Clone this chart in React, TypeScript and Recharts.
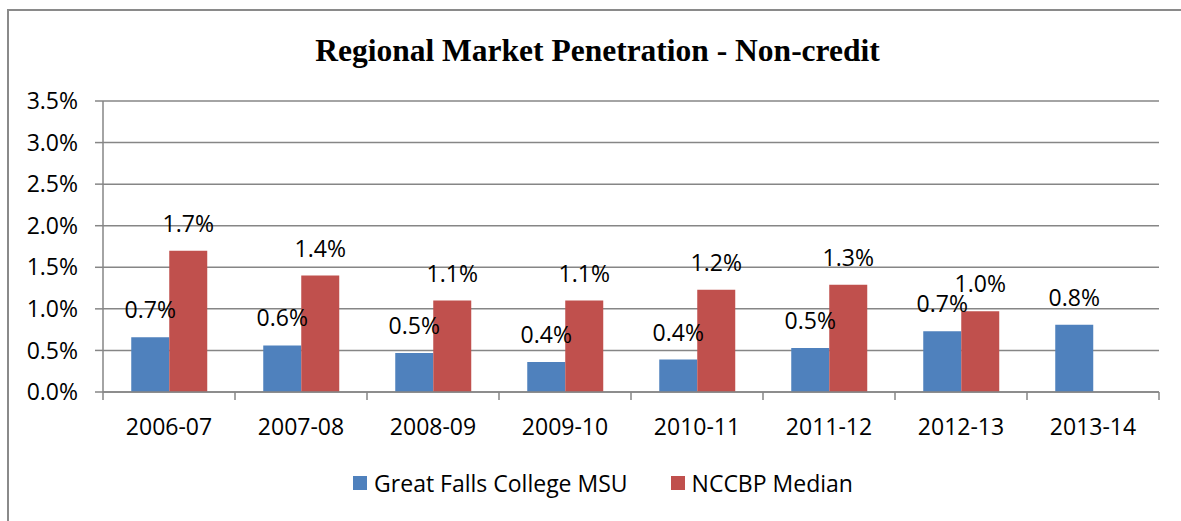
import React from 'react';
import { BarChart, Bar, XAxis, YAxis, CartesianGrid, Legend, LabelList } from 'recharts';

const categories = ['2006-07', '2007-08', '2008-09', '2009-10', '2010-11', '2011-12', '2012-13', '2013-14'];
const gfcValues = [0.66, 0.56, 0.47, 0.36, 0.39, 0.53, 0.73, 0.81];
const nccbpValues: (number | null)[] = [1.7, 1.4, 1.1, 1.1, 1.23, 1.29, 0.97, null];
const yTicks = [0, 0.5, 1, 1.5, 2, 2.5, 3, 3.5];
const seriesNames = ['Great Falls College MSU', 'NCCBP Median'];
const seriesColors = ['#4F81BD', '#C0504D'];

const data = categories.map((name, i) => ({ name, gfc: gfcValues[i], nccbp: nccbpValues[i] }));

const CHART_W = 1181;
const CHART_H = 521;
const AXIS_GRAY = '#868686';
const FONT = '"Open Sans", sans-serif';

const pct = (v: any) => (v === null || v === undefined ? '' : `${Number(v).toFixed(1)}%`);

// category labels + tick marks on the band boundaries (Excel style)
const CategoryTick = (props: any) => {
  const { x, y, payload, index } = props;
  const half = payload && payload.offset ? payload.offset : 66;
  const isLast = index === categories.length - 1;
  return (
    <g>
      <line x1={x - half} y1={y} x2={x - half} y2={y + 8} stroke={AXIS_GRAY} strokeWidth={1.5} />
      {isLast && <line x1={x + half} y1={y} x2={x + half} y2={y + 8} stroke={AXIS_GRAY} strokeWidth={1.5} />}
      <text x={x} y={y + 43} textAnchor="middle" fill="#000" fontSize={23} fontFamily={FONT}>
        {payload.value}
      </text>
    </g>
  );
};

const LegendContent = () => (
  <div
    style={{
      display: 'flex',
      justifyContent: 'center',
      alignItems: 'center',
      height: 34,
      paddingLeft: 25,
      fontFamily: FONT,
      fontSize: 23,
      color: '#000',
    }}
  >
    {seriesNames.map((name, i) => (
      <span key={name} style={{ display: 'flex', alignItems: 'center', marginRight: i === 0 ? 43 : 0 }}>
        <span style={{ width: 14, height: 14, background: seriesColors[i], marginRight: 7, display: 'inline-block' }} />
        {name}
      </span>
    ))}
  </div>
);

export default function App() {
  return (
    <div style={{ position: 'absolute', left: 0, top: 0, width: CHART_W, height: CHART_H, overflow: 'hidden', background: '#fff' }}>
      <div
        style={{
          position: 'absolute',
          left: 7,
          top: 9,
          width: 1400,
          height: 800,
          borderLeft: '2px solid #8a8a8a',
          borderTop: '2px solid #8a8a8a',
        }}
      />
      <div
        style={{
          position: 'absolute',
          left: 7,
          top: 33,
          width: CHART_W,
          textAlign: 'center',
          fontFamily: '"Liberation Serif", "Times New Roman", serif',
          fontWeight: 'bold',
          fontSize: 31.5,
          color: '#000',
        }}
      >
        Regional Market Penetration - Non-credit
      </div>
      <div style={{ position: 'absolute', left: 0, top: 0 }}>
        <BarChart
          width={CHART_W}
          height={CHART_H}
          data={data}
          margin={{ top: 101, right: 22, bottom: 0, left: 0 }}
          barCategoryGap="21.4%"
          barGap={0}
        >
          <CartesianGrid vertical={false} stroke={AXIS_GRAY} strokeWidth={1.5} />
          <XAxis
            dataKey="name"
            axisLine={{ stroke: AXIS_GRAY, strokeWidth: 1.5 }}
            tickLine={false}
            tickSize={0}
            tickMargin={0}
            height={95}
            interval={0}
            tick={<CategoryTick />}
          />
          <YAxis
            width={103}
            domain={[0, 3.5]}
            ticks={yTicks}
            interval={0}
            tickFormatter={pct}
            axisLine={{ stroke: AXIS_GRAY, strokeWidth: 1.5 }}
            tickLine={{ stroke: AXIS_GRAY, strokeWidth: 1.5 }}
            tickSize={8}
            tickMargin={17}
            tick={{ fill: '#000', fontSize: 23, fontFamily: FONT }}
          />
          <Legend
            verticalAlign="bottom"
            content={<LegendContent />}
            wrapperStyle={{ left: 0, top: 466, bottom: 'auto', width: CHART_W }}
          />
          <Bar dataKey="gfc" name={seriesNames[0]} fill={seriesColors[0]} isAnimationActive={false}>
            <LabelList dataKey="gfc" position="top" offset={19} formatter={pct} fill="#000" fontSize={23} fontFamily={FONT} />
          </Bar>
          <Bar dataKey="nccbp" name={seriesNames[1]} fill={seriesColors[1]} isAnimationActive={false}>
            <LabelList dataKey="nccbp" position="top" offset={19} formatter={pct} fill="#000" fontSize={23} fontFamily={FONT} />
          </Bar>
        </BarChart>
      </div>
    </div>
  );
}
